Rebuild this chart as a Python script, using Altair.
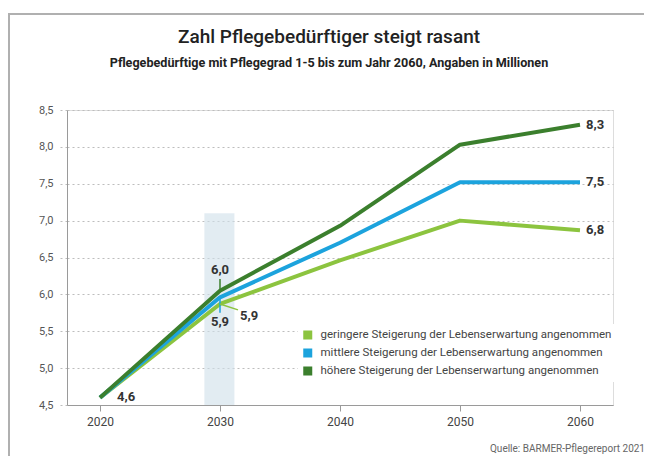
import altair as alt
import pandas as pd

years = [2020, 2030, 2040, 2050, 2060]
gering = [4.6, 5.87, 6.46, 7.0, 6.87]
mittel = [4.6, 5.96, 6.7, 7.52, 7.52]
hoeher = [4.6, 6.05, 6.93, 8.03, 8.3]

series_names = [
    "geringere Steigerung der Lebenserwartung angenommen",
    "mittlere Steigerung der Lebenserwartung angenommen",
    "höhere Steigerung der Lebenserwartung angenommen",
]
colors = ["#8cc43f", "#1ca3dd", "#3b7f2d"]

end_labels = ["6,8", "7,5", "8,3"]
start_label = "4,6"
mid_labels = ["5,9", "5,9", "6,0"]  # gering (right), mittel (below), hoeher (above)

band_x = [2028.7, 2031.2]
band_y = [4.5, 7.1]
y_ticks = [4.5, 5.0, 5.5, 6.0, 6.5, 7.0, 7.5, 8.0, 8.5]

title = "Zahl Pflegebedürftiger steigt rasant"
subtitle = "Pflegebedürftige mit Pflegegrad 1-5 bis zum Jahr 2060, Angaben in Millionen"
source = "Quelle: BARMER-Pflegereport 2021"

FONT = "Roboto"

rows = []
for name, vals, order in zip(series_names, [gering, mittel, hoeher], [2, 1, 0]):
    for y, v in zip(years, vals):
        rows.append({"Jahr": y, "Wert": v, "Serie": name, "ord": order})
df = pd.DataFrame(rows)

xscale = alt.Scale(domain=[2017.25, 2062.75], nice=False, zero=False)
yscale = alt.Scale(domain=[4.5, 8.5], nice=False, zero=False)

xaxis = alt.Axis(
    values=years, format="d", title=None, grid=False, domainColor="#9a9a9a",
    tickColor="#9a9a9a", tickSize=6, labelFont=FONT, labelFontSize=12,
    labelColor="#444", labelPadding=5)
yaxis = alt.Axis(
    values=y_ticks, title=None, labelOverlap=False, tickCount=9,
    labelExpr="replace(format(datum.value, '.1f'), '.', ',')",
    grid=True, gridColor="#bdbdbd", gridDash=[2, 3], gridWidth=1,
    tickColor="#bdbdbd", tickDash=[2, 3], tickSize=10,
    domainColor="#9a9a9a", labelFont=FONT, labelFontSize=11,
    labelColor="#555", labelPadding=4)


def X(field):
    return alt.X(field, scale=xscale, axis=xaxis)


def Y(field):
    return alt.Y(field, scale=yscale, axis=yaxis)


band = alt.Chart(pd.DataFrame({"x": [band_x[0]], "x2": [band_x[1]], "y": [band_y[0]], "y2": [band_y[1]]})).mark_rect(
    color="#cfe0ea", opacity=0.6
).encode(x=X("x:Q"), x2="x2:Q", y=Y("y:Q"), y2="y2:Q")

lines = alt.Chart(df).mark_line(strokeWidth=4, strokeCap="butt", strokeJoin="round").encode(
    x=X("Jahr:Q"),
    y=Y("Wert:Q"),
    color=alt.Color("Serie:N", scale=alt.Scale(domain=series_names, range=colors),
                    sort=series_names,
                    legend=alt.Legend(
                        title=None, orient="none", legendX=231, legendY=214,
                        symbolType="square", symbolSize=16, symbolStrokeWidth=5,
                        labelFont=FONT, labelFontSize=11.5, labelColor="#444",
                        rowPadding=4, clipHeight=14, fillColor="white", padding=4,
                        labelLimit=400, symbolOpacity=1, labelOffset=7)),
    order=alt.Order("ord:Q"),
)

end_df = pd.DataFrame({"Jahr": [years[-1]] * 3, "Wert": [gering[-1], mittel[-1], hoeher[-1]], "t": end_labels})
label_style = dict(font=FONT, fontSize=13, fontWeight="bold", color="#333")
end_text = alt.Chart(end_df).mark_text(align="left", baseline="middle", dx=6, **label_style).encode(
    x=X("Jahr:Q"), y=Y("Wert:Q"), text="t:N")

start_df = pd.DataFrame({"Jahr": [years[0]], "Wert": [gering[0]], "t": [start_label]})
start_text = alt.Chart(start_df).mark_text(align="left", baseline="middle", dx=17, dy=-1, **label_style).encode(
    x=X("Jahr:Q"), y=Y("Wert:Q"), text="t:N")

t_hi = alt.Chart(pd.DataFrame({"Jahr": [2030], "Wert": [hoeher[1]], "t": [mid_labels[2]]})).mark_text(
    align="center", baseline="middle", dy=-21, **label_style).encode(
    x=X("Jahr:Q"), y=Y("Wert:Q"), text="t:N")
t_mid = alt.Chart(pd.DataFrame({"Jahr": [2030], "Wert": [mittel[1]], "t": [mid_labels[1]]})).mark_text(
    align="center", baseline="middle", dy=25, **label_style).encode(
    x=X("Jahr:Q"), y=Y("Wert:Q"), text="t:N")
t_lo = alt.Chart(pd.DataFrame({"Jahr": [2030], "Wert": [gering[1]], "t": [mid_labels[0]]})).mark_text(
    align="left", baseline="middle", dx=20, dy=12, **label_style).encode(
    x=X("Jahr:Q"), y=Y("Wert:Q"), text="t:N")

lead_df = pd.DataFrame({
    "x": [2030, 2030, 2030], "x2": [2030, 2030, 2031.5],
    "y": [hoeher[1], mittel[1], gering[1]], "y2": [6.21, 5.75, 5.79],
    "c": [colors[2], colors[1], colors[0]],
})
leaders = alt.Chart(lead_df).mark_rule(strokeWidth=1.5).encode(
    x=X("x:Q"), x2="x2:Q", y=Y("y:Q"), y2="y2:Q",
    color=alt.Color("c:N", scale=None, legend=None),
)

frame = alt.Chart(pd.DataFrame({"a": [0]})).mark_rect(
    fill=None, stroke="#b0b0b0", strokeWidth=2
).encode(x=alt.value(-58), x2=alt.value(580), y=alt.value(-96), y2=alt.value(362))

title_mark = alt.Chart(pd.DataFrame({"t": [title]})).mark_text(
    align="center", baseline="alphabetic", font=FONT, fontSize=19, fontWeight=500, color="#222"
).encode(x=alt.value(262), y=alt.value(-67), text="t:N")

subtitle_mark = alt.Chart(pd.DataFrame({"t": [subtitle]})).mark_text(
    align="center", baseline="alphabetic", font=FONT, fontSize=12.6, fontWeight="bold", color="#222"
).encode(x=alt.value(262), y=alt.value(-43), text="t:N")

src = alt.Chart(pd.DataFrame({"t": [source]})).mark_text(
    align="right", baseline="alphabetic", font=FONT, fontSize=10, color="#666"
).encode(x=alt.value(578), y=alt.value(342), text="t:N")

chart = alt.layer(
    frame, band, lines, leaders, end_text, start_text, t_hi, t_mid, t_lo,
    title_mark, subtitle_mark, src
).resolve_scale(color="independent").properties(
    width=546, height=295,
    autosize=alt.AutoSizeParams(type="none"),
    padding={"left": 59, "top": 102, "right": 31, "bottom": 60},
).configure_view(stroke=None).configure(background="white")

chart.save("out.html", embed_options={"renderer": "svg", "actions": False})
